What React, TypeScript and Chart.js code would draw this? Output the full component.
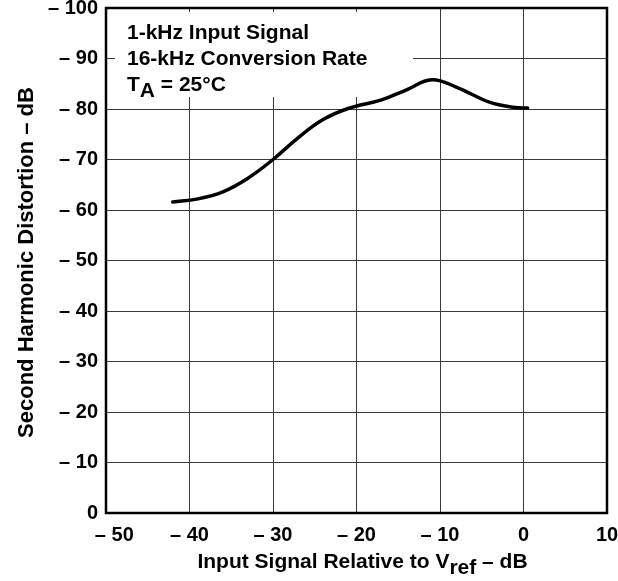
import React, { useEffect, useRef } from "react";
import { Chart, registerables } from "chart.js";

Chart.register(...registerables);

// ---- data ----
const inputLevels = [-42, -39, -36, -33, -30, -27, -24, -21, -17, -14, -11, -8, -4, -1, 0.5];
const distortion = [-61.6, -62.2, -63.6, -66.3, -70.0, -74.3, -77.9, -80.1, -81.8, -83.8, -85.8, -84.3, -81.3, -80.3, -80.2];

const xMin = -50;
const xMax = 10;
const xStep = 10;
const yMin = -100;
const yMax = 0;
const yStep = 10;

const yTitle = "Second Harmonic Distortion \u2013 dB";
const xTitleMain = "Input Signal Relative to V";
const xTitleSub = "ref";
const xTitleTail = " \u2013 dB";

const noteLine1 = "1-kHz Input Signal";
const noteLine2 = "16-kHz Conversion Rate";
const noteLine3Main = "T";
const noteLine3Sub = "A";
const noteLine3Tail = " = 25\u00B0C";

const FONT_FAMILY = "'Liberation Sans', Arial, Helvetica, sans-serif";

function fmtTick(v: number): string {
  if (v < 0) return "\u2013 " + Math.abs(v);
  return String(v);
}

const decorPlugin = {
  id: "decor",
  beforeDatasetsDraw(chart: any) {
    const { ctx, chartArea } = chart;
    // white backing box for the condition note
    ctx.save();
    ctx.fillStyle = "#ffffff";
    ctx.fillRect(chartArea.left + 9, chartArea.top + 4, 298, 85);
    ctx.restore();
  },
  afterDraw(chart: any) {
    const { ctx, chartArea } = chart;
    ctx.save();
    // frame
    ctx.strokeStyle = "#000";
    ctx.lineWidth = 2.5;
    ctx.strokeRect(chartArea.left, chartArea.top, chartArea.right - chartArea.left, chartArea.bottom - chartArea.top);

    // note text
    ctx.fillStyle = "#000";
    ctx.font = "bold 21px " + FONT_FAMILY;
    ctx.textAlign = "left";
    ctx.textBaseline = "alphabetic";
    const nx = chartArea.left + 21;
    ctx.fillText(noteLine1, nx, chartArea.top + 31);
    ctx.fillText(noteLine2, nx, chartArea.top + 57);
    const by = chartArea.top + 83;
    ctx.fillText(noteLine3Main, nx, by);
    const wT = ctx.measureText(noteLine3Main).width;
    ctx.fillText(noteLine3Sub, nx + wT, by + 6);
    const wA = ctx.measureText(noteLine3Sub).width;
    ctx.fillText(noteLine3Tail, nx + wT + wA, by);

    // x title
    ctx.font = "bold 21px " + FONT_FAMILY;
    const w1 = ctx.measureText(xTitleMain).width;
    const w2 = ctx.measureText(xTitleSub).width;
    const w3 = ctx.measureText(xTitleTail).width;
    const total = w1 + w2 + w3;
    const cx = (chartArea.left + chartArea.right) / 2 + 6;
    const sx = cx - total / 2;
    const xb = chart.height - 13;
    ctx.fillText(xTitleMain, sx, xb);
    ctx.fillText(xTitleSub, sx + w1, xb + 6);
    ctx.fillText(xTitleTail, sx + w1 + w2, xb);

    // y title
    ctx.font = "bold 22px " + FONT_FAMILY;
    ctx.translate(33, (chartArea.top + chartArea.bottom) / 2 + 2);
    ctx.rotate(-Math.PI / 2);
    ctx.textAlign = "center";
    ctx.fillText(yTitle, 0, 0);
    ctx.restore();
  },
};

export default function App() {
  const ref = useRef<HTMLCanvasElement | null>(null);

  useEffect(() => {
    const canvas = ref.current;
    if (!canvas) return;
    const tickFont = { family: FONT_FAMILY, size: 20, weight: "bold" as const };
    const chart = new Chart(canvas, {
      type: "line",
      data: {
        datasets: [
          {
            data: inputLevels.map((x, i) => ({ x, y: distortion[i] })),
            borderColor: "#000",
            borderWidth: 3.5,
            borderCapStyle: "round",
            borderJoinStyle: "round",
            pointRadius: 0,
            fill: false,
            tension: 0.4,
          },
        ],
      },
      options: {
        responsive: false,
        animation: false,
        devicePixelRatio: 1,
        layout: { padding: { top: 8, right: 11, left: 0, bottom: 0 } },
        plugins: { legend: { display: false }, tooltip: { enabled: false }, title: { display: false } },
        scales: {
          x: {
            type: "linear",
            min: xMin,
            max: xMax,
            ticks: {
              stepSize: xStep,
              color: "#000",
              font: tickFont,
              padding: 10,
              maxRotation: 0,
              autoSkip: false,
              callback: (v: any) => (v === xMin ? "   " + fmtTick(v) : fmtTick(v)),
            },
            grid: { color: "#3a3a3a", lineWidth: 1, drawTicks: false },
            border: { display: false },
            afterFit: (s: any) => {
              s.height = 68;
              s.paddingLeft = 0;
              s.paddingRight = 0;
            },
          },
          y: {
            type: "linear",
            min: yMin,
            max: yMax,
            reverse: true,
            ticks: {
              stepSize: yStep,
              color: "#000",
              font: tickFont,
              padding: 8,
              autoSkip: false,
              callback: (v: any) => fmtTick(v),
            },
            grid: { color: "#3a3a3a", lineWidth: 1, drawTicks: false },
            border: { display: false },
            afterFit: (s: any) => {
              s.width = 106;
              s.paddingTop = 0;
              s.paddingBottom = 0;
            },
          },
        },
      },
      plugins: [decorPlugin],
    } as any);
    return () => chart.destroy();
  }, []);

  return (
    <div style={{ position: "fixed", left: 0, top: 0, width: 618, height: 581, background: "#fff" }}>
      <canvas ref={ref} width={618} height={581} style={{ display: "block", width: 618, height: 581 }} />
    </div>
  );
}
